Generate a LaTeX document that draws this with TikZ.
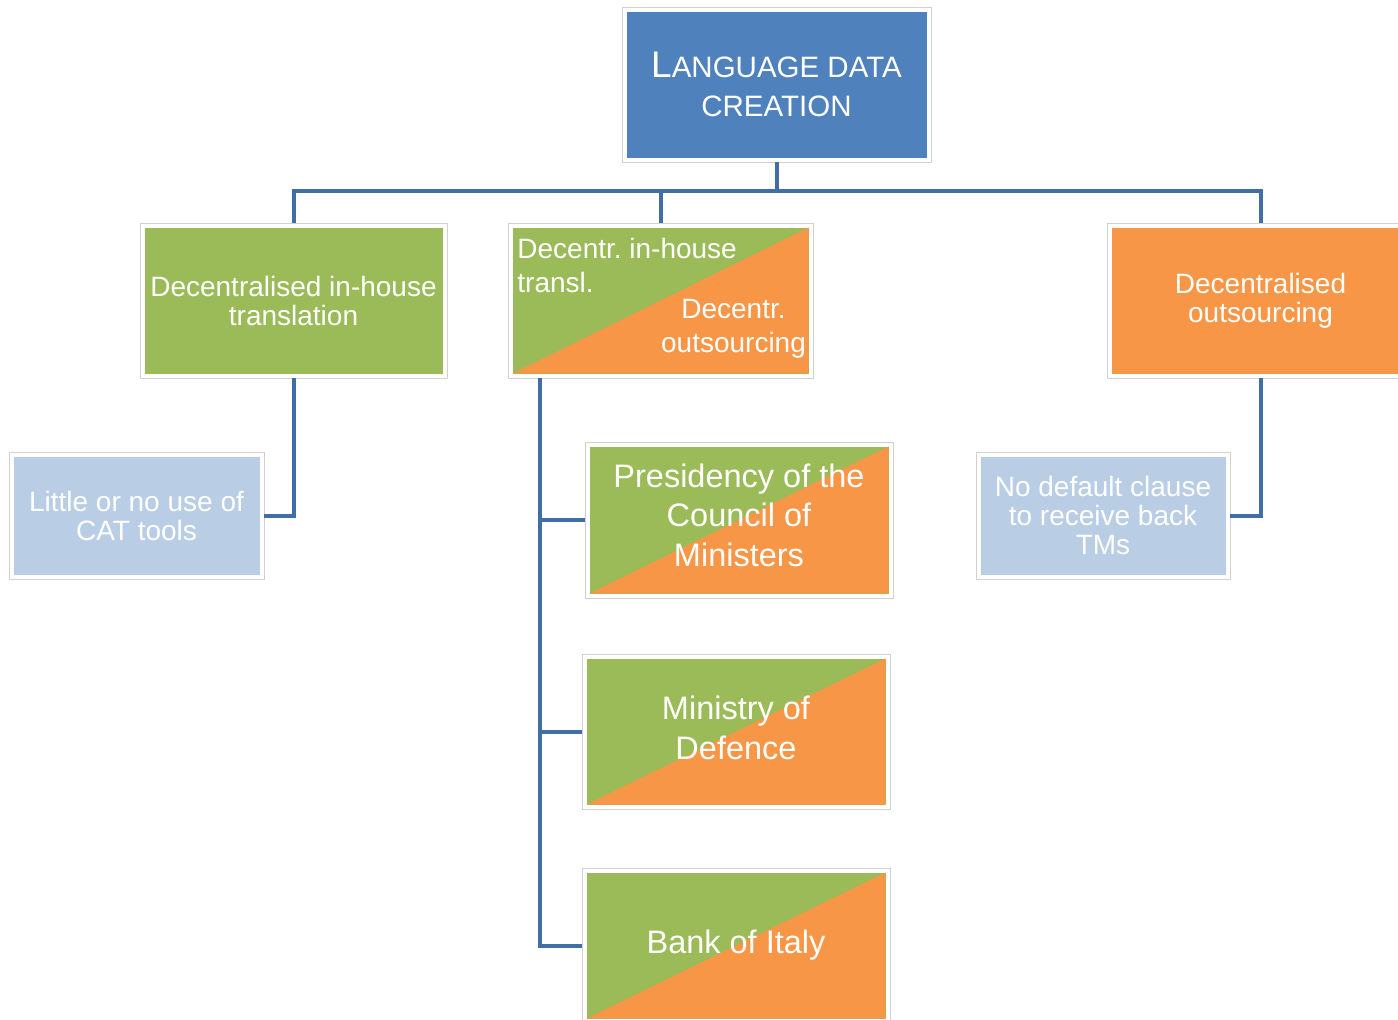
\documentclass[tikz,border=0pt]{standalone}
\usepackage{fontspec}
\setmainfont{Liberation Sans}
\usetikzlibrary{calc}
\definecolor{hdrblue}{HTML}{4F81BD}
\definecolor{boxgreen}{HTML}{9BBB59}
\definecolor{boxorange}{HTML}{F79646}
\definecolor{paleblue}{HTML}{B9CDE5}
\definecolor{linkblue}{RGB}{65,110,167}
\definecolor{framegray}{RGB}{208,208,208}
\tikzset{
  card/.style={draw=framegray, line width=0.8pt, fill=white, inner sep=0pt,
    text=white, align=center},
  plainfill/.style={path picture={
    \fill[#1] ([shift={(4.5,4.5)}]path picture bounding box.north west)
      rectangle ([shift={(-4.5,-4.5)}]path picture bounding box.south east);}},
  splitfill/.style={path picture={
    \coordinate (pnw) at ([shift={(4.5,4.5)}]path picture bounding box.north west);
    \coordinate (pse) at ([shift={(-4.5,-4.5)}]path picture bounding box.south east);
    \fill[boxgreen] (pnw) rectangle (pse);
    \fill[boxorange] (pnw -| pse) -- (pse) -- (pnw |- pse) -- cycle;}},
  big/.style={font=\fontsize{28}{29}\selectfont},
  bigger/.style={font=\fontsize{32.5}{39.5}\selectfont},
  link/.style={draw=linkblue, line width=4pt},
}
\begin{document}
\frenchspacing
\begin{tikzpicture}[x=1pt,y=-1pt]
\useasboundingbox (0,0) rectangle (1398,1020);
\clip (0,0) rectangle (1398,1020);

% top
\node[card, plainfill=hdrblue, minimum width=309, minimum height=155,
  font=\fontsize{29.5}{39}\selectfont] (top) at (776.5,84.5)
  {{\fontsize{37}{39}\selectfont L}ANGUAGE DATA\\CREATION};

% second level
\node[card, plainfill=boxgreen, minimum width=307, minimum height=155, big]
  (inhouse) at (293.5,300.5) {Decentralised in-house\\translation};
\node[card, splitfill, minimum width=305, minimum height=155]
  (mixed) at (660.5,300.5) {};
\node[card, align=left, anchor=north west, fill=none, draw=none,
  font=\fontsize{28}{34}\selectfont] (mixedA) at (517,237.5)
  {Decentr. in-house\\transl.};
\node[card, anchor=north, fill=none, draw=none,
  font=\fontsize{28}{34}\selectfont] (mixedB) at (733.5,298.5)
  {Decentr.\\outsourcing};
\node[card, plainfill=boxorange, minimum width=307, minimum height=155, big]
  (outsrc) at (1260.5,300.5) {Decentralised\\outsourcing};

% leaves
\node[card, plainfill=paleblue, minimum width=255, minimum height=127, big]
  (cat) at (136.5,515.5) {Little or no use of\\CAT tools};
\node[card, plainfill=paleblue, minimum width=254, minimum height=127, big]
  (tms) at (1103,515.5) {No default clause\\to receive back\\TMs};

\node[card, splitfill, minimum width=308, minimum height=156, bigger]
  (pres) at (739,520) {Presidency of the\\Council of\\Ministers\rule[-10pt]{0pt}{10pt}};
\node[card, splitfill, minimum width=308, minimum height=155, bigger]
  (mod) at (736,731.5) {Ministry of\\Defence\rule[-8pt]{0pt}{8pt}};
\node[card, splitfill, minimum width=308, minimum height=155, bigger]
  (bank) at (736,945.5) {Bank of Italy};

% connectors
\coordinate (bus) at ($(top.south)+(0,29)$);
\draw[link] (top.south) -- (bus);
\draw[link] (inhouse.north) |- (bus) -| (outsrc.north);
\draw[link] (mixed.north) -- (mixed.north |- bus);
\draw[link] (inhouse.south) |- (cat.east);
\draw[link] (outsrc.south) |- (tms.east);
\coordinate (trunk) at ($(mixed.south west)+(32,0)$);
\draw[link] (trunk) |- (bank.west);
\draw[link] (trunk |- pres.west) -- (pres.west);
\draw[link] (trunk |- mod.west) -- (mod.west);
\end{tikzpicture}
\end{document}
